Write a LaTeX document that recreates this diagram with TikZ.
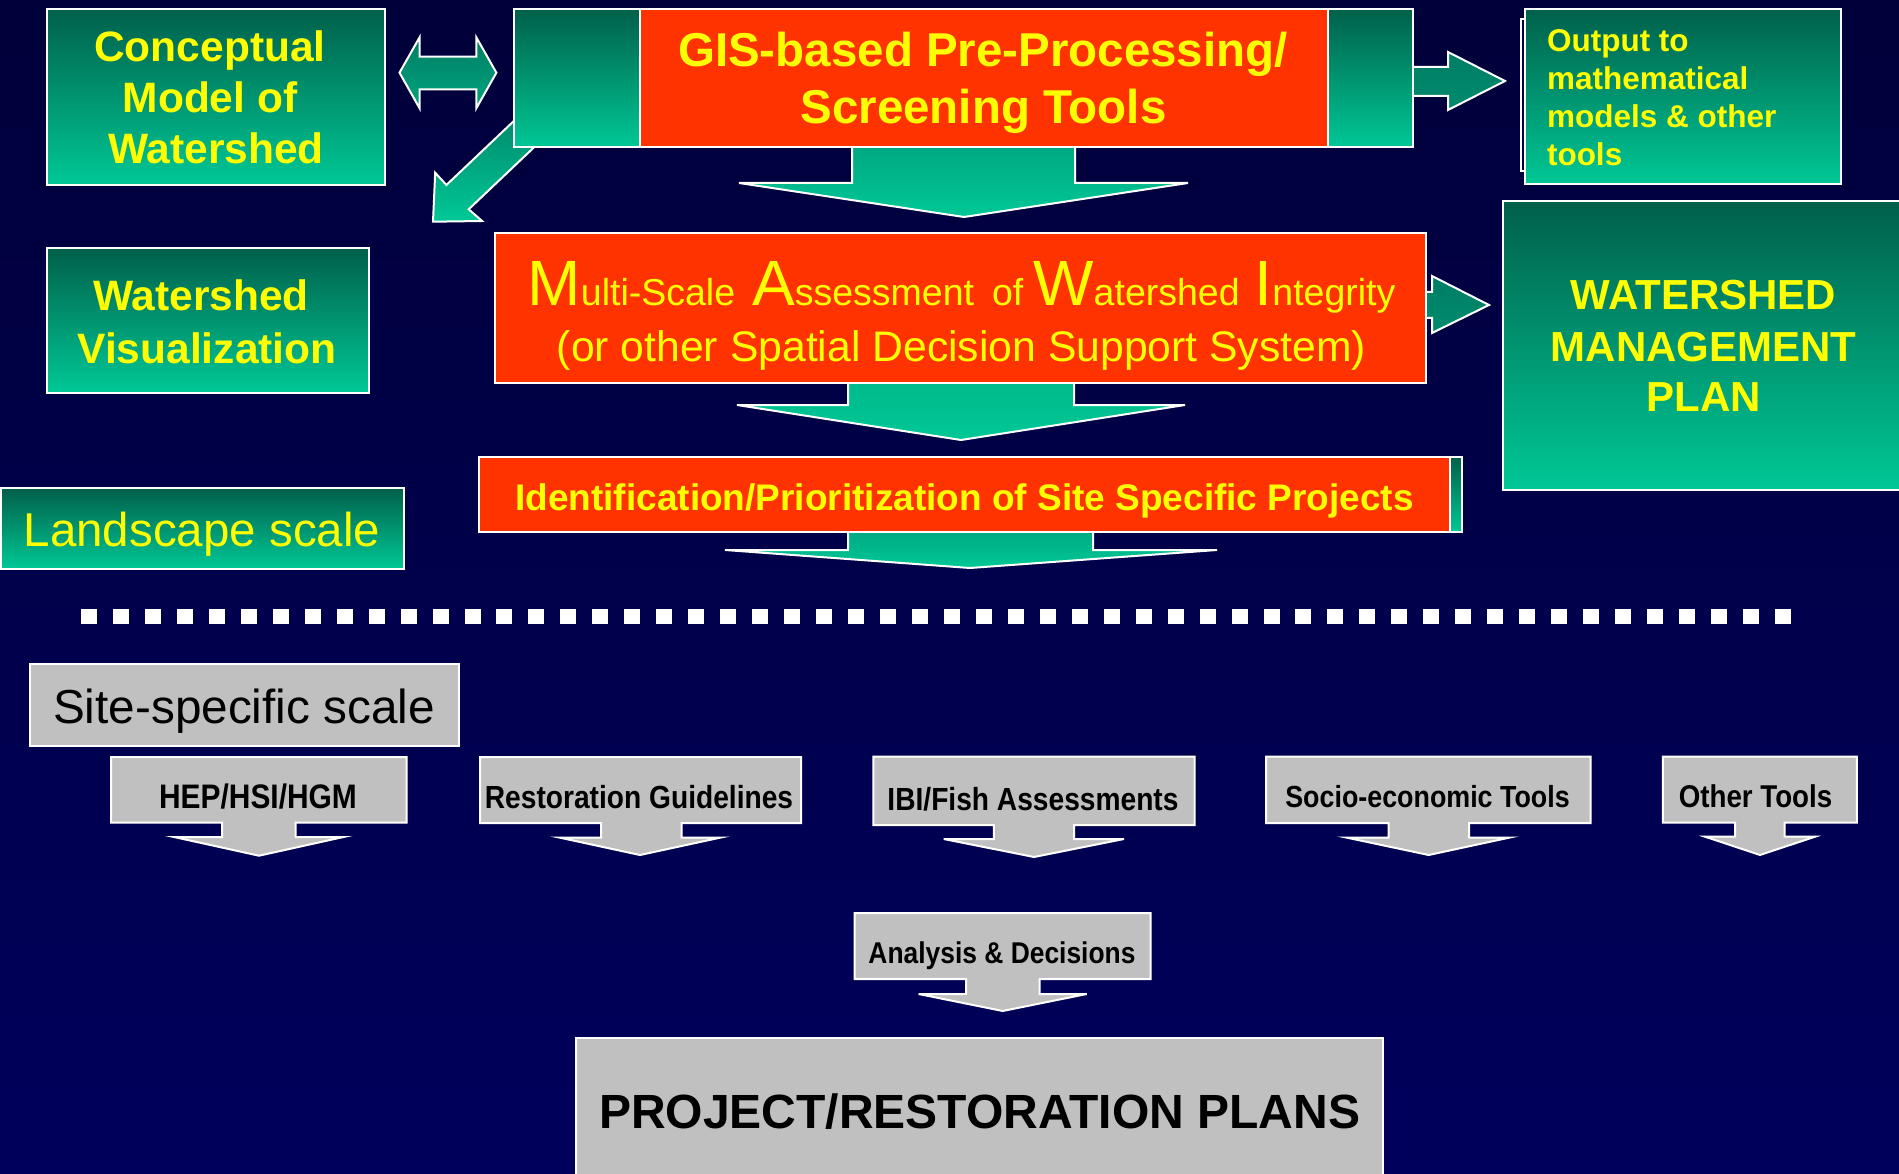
\documentclass[tikz,border=0pt]{standalone}
\usepackage{fontspec}
\setmainfont{Liberation Sans}
\newfontfamily\narrowsans[FakeStretch=0.88]{Liberation Sans}
\newcommand\pxsize[1]{\fontsize{#1}{#1}\selectfont}
\newcommand\capsz{\fontsize{64}{64}\selectfont}
\newcommand\smsz{\fontsize{37.5}{40}\selectfont}

\definecolor{bgtop}{RGB}{0,0,58}
\definecolor{bgbot}{RGB}{0,0,92}
\definecolor{gtop}{RGB}{0,96,74}
\definecolor{gbot}{RGB}{0,200,150}
\definecolor{amid}{RGB}{0,165,128}
\definecolor{adark}{RGB}{0,125,100}
\definecolor{boxred}{RGB}{255,51,0}
\definecolor{boxgray}{RGB}{192,192,192}
\definecolor{boxyellow}{RGB}{255,255,0}

\begin{document}
\begin{tikzpicture}[x=1pt,y=-1pt,
  gbox/.style={draw=white,line width=2pt,top color=gtop,bottom color=gbot,
    inner sep=0pt,outer sep=0pt,anchor=north west},
  rbox/.style={draw=white,line width=2pt,fill=boxred,
    inner sep=0pt,outer sep=0pt,anchor=north west},
  graybox/.style={draw=white,line width=2pt,fill=boxgray,
    inner sep=0pt,outer sep=0pt,anchor=north west},
  blockarrow/.style={draw=white,line width=2pt,top color=amid,bottom color=gbot},
  sidearrow/.style={draw=white,line width=2pt,top color=adark,bottom color=adark!80!gbot},
  grayarrow/.style={draw=white,line width=2pt,fill=boxgray},
  ytext/.style={text=boxyellow,inner sep=0pt,outer sep=0pt,anchor=base},
  ktext/.style={text=black,inner sep=0pt,outer sep=0pt,anchor=base}]

\useasboundingbox (0,0) rectangle (1899,1174);
\shade[top color=bgtop,bottom color=bgbot] (0,0) rectangle (1899,1174);

% ---- block arrows (drawn first, so boxes cover their tails) ----
% two-way arrow between the conceptual model and the GIS tools
\shade[sidearrow,top color=adark,bottom color=amid]
  (399.5,72.7) -- (419.6,37.3) -- (419.6,56.7) -- (476.3,56.7) -- (476.3,37.3)
  -- (496.4,72.7) -- (476.3,108.3) -- (476.3,89.3) -- (419.6,89.3) -- (419.6,108.3) -- cycle;
% diagonal arrow towards the visualization box
\shade[draw=white,line width=2pt,top color=adark,bottom color=gbot]
  (433,221.7) -- (435.2,172.7) -- (446.4,185) -- (540.7,95.5) -- (563,119.8)
  -- (468.7,209.3) -- (482.1,221) -- cycle;
% right arrows
\shade[sidearrow]
  (1405,67) -- (1448,67) -- (1448,52) -- (1505,81) -- (1448,110) -- (1448,96) -- (1405,96) -- cycle;
\shade[sidearrow]
  (1420,292) -- (1432,292) -- (1432,276) -- (1489,305) -- (1432,333) -- (1432,318) -- (1420,318) -- cycle;
% downward arrows of the landscape-scale chain
\shade[blockarrow]
  (852,140) -- (1075,140) -- (1075,183) -- (1188,183) -- (964,217) -- (739,183) -- (852,183) -- cycle;
\shade[blockarrow,top color=gbot!92!black]
  (848,376) -- (1074,376) -- (1074,405) -- (1185,405) -- (961,440) -- (737,405) -- (848,405) -- cycle;
\shade[blockarrow]
  (848,525) -- (1093,525) -- (1093,550) -- (1217,550) -- (970,568) -- (725,550) -- (848,550) -- cycle;

% ---- landscape-scale boxes ----
\node[gbox,minimum width=338pt,minimum height=176pt] (cm) at (47,9) {};
\node[gbox,minimum width=899pt,minimum height=138pt] (gis) at (514,9) {};
\node[rbox,minimum width=688pt,minimum height=138pt] (gisred) at (640,9) {};
\draw[white,line width=1.5pt] (1521,19) rectangle (1600,171);
\node[gbox,minimum width=316pt,minimum height=175pt] (out) at (1525,9) {};
\node[gbox,minimum width=322pt,minimum height=145pt] (wv) at (47,248) {};
\node[gbox,minimum width=403pt,minimum height=81pt] (ls) at (1,488) {};
\node[rbox,minimum width=931pt,minimum height=150pt] (mawi) at (495,233) {};
\node[gbox,minimum width=420pt,minimum height=289pt] (wmp) at (1503,201) {};
\node[gbox,minimum width=983pt,minimum height=75pt] (identg) at (479,457) {};
\node[rbox,minimum width=971pt,minimum height=75pt] (ident) at (479,457) {};

% ---- separator between the two scales ----
\foreach \i in {0,...,53}
  \fill[white] (81+\i*31.96,609) rectangle ++(16,15);

% ---- site-specific boxes ----
\node[graybox,minimum width=429pt,minimum height=82pt] (ss) at (30,664) {};
\path[grayarrow] (111,757) -- (406.6,757) -- (406.6,822.7) -- (295.7,822.7) -- (295.7,837)
  -- (343.5,837) -- (259,855.7) -- (174,837) -- (222,837) -- (222,822.7) -- (111,822.7) -- cycle;
\path[grayarrow] (480,757) -- (801,757) -- (801,823) -- (681.6,823) -- (681.6,837.7)
  -- (720,837.7) -- (640,855) -- (560,837.7) -- (601,837.7) -- (601,823) -- (480,823) -- cycle;
\path[grayarrow] (873.4,756.7) -- (1194.5,756.7) -- (1194.5,825) -- (1074,825) -- (1074,839)
  -- (1124,839) -- (1034,857) -- (943.7,839) -- (993.8,839) -- (993.8,825) -- (873.4,825) -- cycle;
\path[grayarrow] (1266,756.7) -- (1590.6,756.7) -- (1590.6,823) -- (1469,823) -- (1469,837.7)
  -- (1509,837.7) -- (1428.7,855) -- (1347,837.7) -- (1388.5,837.7) -- (1388.5,823) -- (1266,823) -- cycle;
\path[grayarrow] (1662.8,756.7) -- (1856.8,756.7) -- (1856.8,822.7) -- (1784.6,822.7) -- (1784.6,836.7)
  -- (1815,836.7) -- (1760,855) -- (1705,836.7) -- (1735,836.7) -- (1735,822.7) -- (1662.8,822.7) -- cycle;
\path[grayarrow] (854.7,913) -- (1150.7,913) -- (1150.7,979) -- (1039.5,979) -- (1039.5,994)
  -- (1086.7,994) -- (1002.7,1011) -- (918.6,994) -- (966,994) -- (966,979) -- (854.7,979) -- cycle;
\node[graybox,minimum width=807pt,minimum height=170pt] (proj) at (576,1038) {};

% ---- texts ----
\node[ytext,font=\bfseries\pxsize{42.5}] (cm1) at (210,62) {Conceptual};
\node[ytext,font=\bfseries\pxsize{42.5}] (cm2) at (210,113) {Model of};
\node[ytext,font=\bfseries\pxsize{42.5}] (cm3) at (216,164) {Watershed};

\node[ytext,font=\bfseries\pxsize{47.5}] (gis1) at (983,66.7) {GIS-based Pre-Processing/};
\node[ytext,font=\bfseries\pxsize{47.5}] (gis2) at (983.5,124) {Screening Tools};

\node[ytext,anchor=base west,font=\bfseries\pxsize{31.5}] (out1) at (1547,52) {Output to};
\node[ytext,anchor=base west,font=\bfseries\pxsize{31.5}] (out2) at (1547,90) {mathematical};
\node[ytext,anchor=base west,font=\bfseries\pxsize{31.5}] (out3) at (1547,128) {models \& other};
\node[ytext,anchor=base west,font=\bfseries\pxsize{31.5}] (out4) at (1547,166) {tools};

\node[ytext,font=\bfseries\pxsize{42.5}] (wv1) at (201,311) {Watershed};
\node[ytext,font=\bfseries\pxsize{42.5}] (wv2) at (207,363) {Visualization};

\node[ytext,font=\pxsize{47.5}] (ls1) at (202,546.7) {Landscape scale};

\node[ytext] (mawi1) at (961.5,306) {{\capsz M}{\smsz ulti-Scale}\hspace{17pt}{\capsz A}{\smsz ssessment}\hspace{18pt}{\smsz of}\hspace{10pt}{\capsz W}{\smsz atershed}\hspace{15pt}{\capsz I}{\smsz ntegrity}};
\node[ytext,font=\pxsize{42.7}] (mawi2) at (961.5,362) {(or other Spatial Decision Support System)};

\node[ytext,font=\bfseries\pxsize{42}] (wmp1) at (1703.5,310) {WATERSHED};
\node[ytext,font=\bfseries\pxsize{42}] (wmp2) at (1703.5,361.7) {MANAGEMENT};
\node[ytext,font=\bfseries\pxsize{42}] (wmp3) at (1704,411.7) {PLAN};

\node[ytext,font=\bfseries\pxsize{37}] (ident1) at (964.5,510) {Identification/Prioritization of Site Specific Projects};

\node[ktext,font=\pxsize{47.7}] (ss1) at (244,723.3) {Site-specific scale};

\node[ktext,font=\narrowsans\bfseries\pxsize{34}] (hep) at (258,808.3) {HEP/HSI/HGM};
\node[ktext,font=\narrowsans\bfseries\pxsize{32}] (rest) at (639,808) {Restoration Guidelines};
\node[ktext,font=\narrowsans\bfseries\pxsize{32}] (ibi) at (1033,810) {IBI/Fish Assessments};
\node[ktext,font=\narrowsans\bfseries\pxsize{30.5}] (socio) at (1427.5,807.7) {Socio-economic Tools};
\node[ktext,font=\narrowsans\bfseries\pxsize{31.5}] (other) at (1755.5,807.7) {Other Tools};
\node[ktext,font=\narrowsans\bfseries\pxsize{30}] (anal) at (1002,963.3) {Analysis \& Decisions};

\node[ktext,font=\bfseries\pxsize{48}] (proj1) at (979.6,1128.3) {PROJECT/RESTORATION PLANS};
\end{tikzpicture}
\end{document}
